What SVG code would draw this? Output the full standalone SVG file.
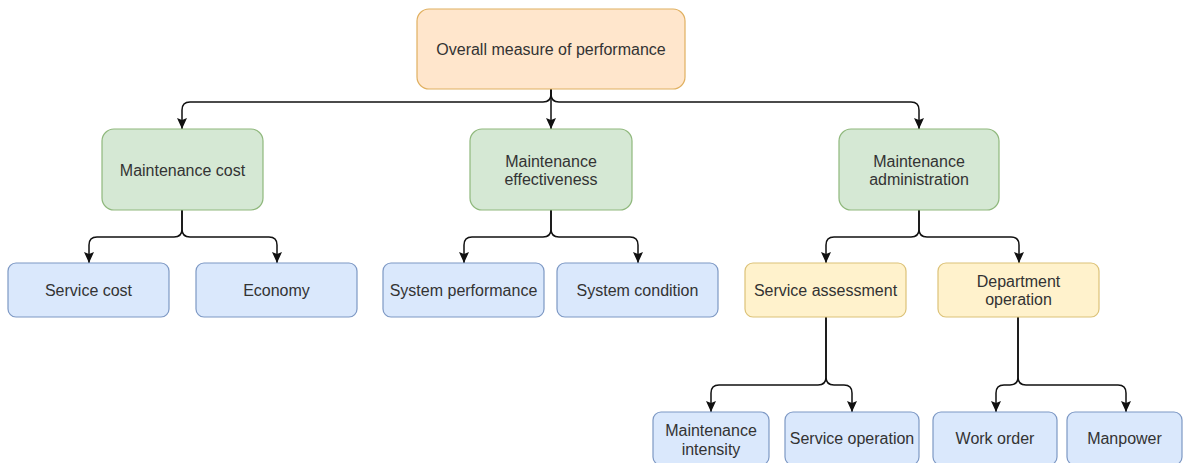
<svg xmlns="http://www.w3.org/2000/svg" width="1184" height="463" viewBox="0 0 1184 463">
<style>
  .t{font-family:"Liberation Sans",Arial,sans-serif;font-size:16px;fill:#333;text-anchor:middle;dominant-baseline:central}
  .orange{fill:#ffe6cc;stroke:#e0b060;stroke-width:1.2}
  .green{fill:#d5e8d4;stroke:#8fb87c;stroke-width:1.2}
  .blue{fill:#dae8fc;stroke:#7d98c4;stroke-width:1.2}
  .yellow{fill:#fff2cc;stroke:#dcc278;stroke-width:1.2}
  .e{fill:none;stroke:#111;stroke-width:1.5}
</style>
<defs>
  <marker id="a" markerUnits="userSpaceOnUse" markerWidth="14" markerHeight="14" viewBox="-7 -12 14 14" refX="0" refY="0" orient="0">
    <path d="M-5,-11 L0,-9 L5,-11 L0,0 Z" fill="#111"/>
  </marker>
</defs>
<g id="connectors">
  <path class="e" marker-end="url(#a)" d="M551,89 V94 Q551,102 543,102 H190 Q182,102 182,110 V129"/>
  <path class="e" marker-end="url(#a)" d="M551,89 V129"/>
  <path class="e" marker-end="url(#a)" d="M551,89 V94 Q551,102 559,102 H911 Q919,102 919,110 V129"/>

  <path class="e" marker-end="url(#a)" d="M182,210 V229 Q182,237 174,237 H97 Q89,237 89,245 V263"/>
  <path class="e" marker-end="url(#a)" d="M182,210 V229 Q182,237 190,237 H269 Q277,237 277,245 V263"/>

  <path class="e" marker-end="url(#a)" d="M551,210 V229 Q551,237 543,237 H472 Q464,237 464,245 V263"/>
  <path class="e" marker-end="url(#a)" d="M551,210 V229 Q551,237 559,237 H630 Q638,237 638,245 V263"/>

  <path class="e" marker-end="url(#a)" d="M919,210 V229 Q919,237 911,237 H834 Q826,237 826,245 V263"/>
  <path class="e" marker-end="url(#a)" d="M919,210 V229 Q919,237 927,237 H1011 Q1019,237 1019,245 V263"/>

  <path class="e" marker-end="url(#a)" d="M826,317 V377 Q826,385 818,385 H719 Q711,385 711,393 V412"/>
  <path class="e" marker-end="url(#a)" d="M826,317 V377 Q826,385 834,385 H844 Q852,385 852,393 V412"/>

  <path class="e" marker-end="url(#a)" d="M1018,317 V377 Q1018,385 1010,385 H1004 Q996,385 996,393 V412"/>
  <path class="e" marker-end="url(#a)" d="M1018,317 V377 Q1018,385 1026,385 H1118 Q1126,385 1126,393 V412"/>
</g>
<g id="n-overall"><rect class="orange" x="417" y="9" width="268" height="80" rx="12"/><text class="t" x="551" y="49">Overall measure of performance</text></g>
<g id="n-cost"><rect class="green" x="102" y="129" width="161" height="81" rx="12"/><text class="t" x="182.5" y="170">Maintenance cost</text></g>
<g id="n-effect"><rect class="green" x="470" y="129" width="162" height="81" rx="12"/><text class="t" x="551" y="161">Maintenance</text><text class="t" x="551" y="179">effectiveness</text></g>
<g id="n-admin"><rect class="green" x="839" y="129" width="160" height="81" rx="12"/><text class="t" x="919" y="161">Maintenance</text><text class="t" x="919" y="179">administration</text></g>
<g id="n-servicecost"><rect class="blue" x="8" y="263" width="161" height="54" rx="8"/><text class="t" x="88.5" y="290">Service cost</text></g>
<g id="n-economy"><rect class="blue" x="196" y="263" width="161" height="54" rx="8"/><text class="t" x="276.5" y="290">Economy</text></g>
<g id="n-sysperf"><rect class="blue" x="383" y="263" width="161" height="54" rx="8"/><text class="t" x="463.5" y="290">System performance</text></g>
<g id="n-syscond"><rect class="blue" x="557" y="263" width="161" height="54" rx="8"/><text class="t" x="637.5" y="290">System condition</text></g>
<g id="n-assess"><rect class="yellow" x="745" y="263" width="161" height="54" rx="8"/><text class="t" x="825.5" y="290">Service assessment</text></g>
<g id="n-dept"><rect class="yellow" x="938" y="263" width="161" height="54" rx="8"/><text class="t" x="1018.5" y="281">Department</text><text class="t" x="1018.5" y="299">operation</text></g>
<g id="n-intensity"><rect class="blue" x="653" y="412" width="116" height="53" rx="8"/><text class="t" x="711" y="430">Maintenance</text><text class="t" x="711" y="449">intensity</text></g>
<g id="n-serviceop"><rect class="blue" x="785" y="412" width="134" height="53" rx="8"/><text class="t" x="852" y="438">Service operation</text></g>
<g id="n-workorder"><rect class="blue" x="933" y="412" width="124" height="53" rx="8"/><text class="t" x="995" y="438">Work order</text></g>
<g id="n-manpower"><rect class="blue" x="1067" y="412" width="115" height="53" rx="8"/><text class="t" x="1124.5" y="438">Manpower</text></g>
</svg>
